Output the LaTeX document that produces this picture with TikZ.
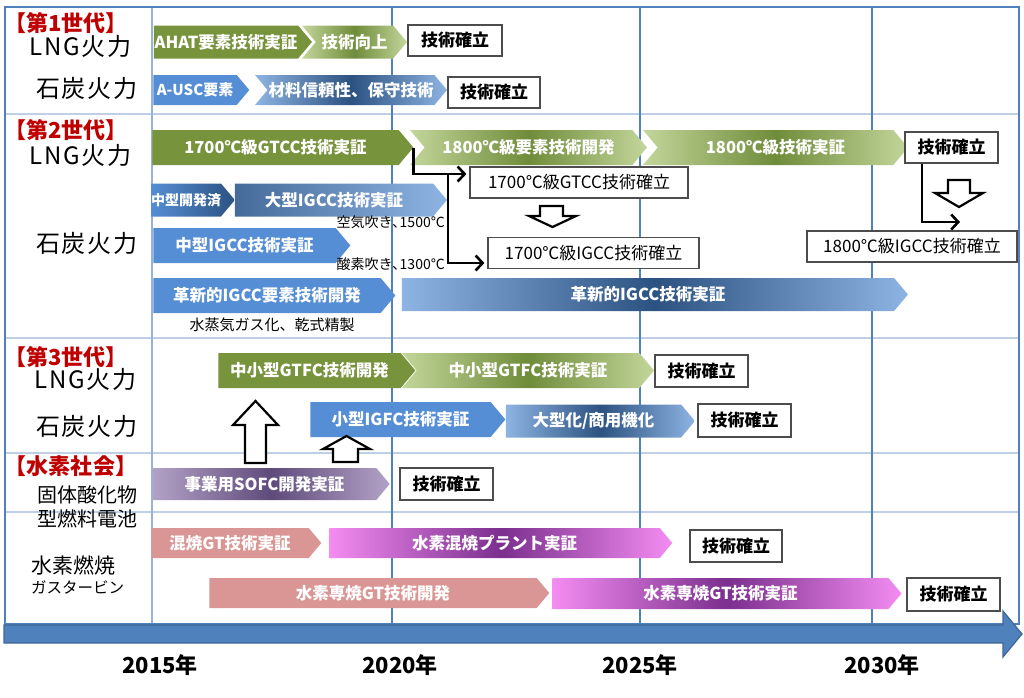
\documentclass[tikz,border=0pt]{standalone}
\usepackage{fontspec}
\setmainfont{Noto Sans CJK JP}
\usepackage{tikz}
\usetikzlibrary{shapes.symbols}
\usetikzlibrary{arrows.meta}
\usetikzlibrary{positioning}
\usetikzlibrary{calc}

\begin{document}
\begin{tikzpicture}[x=1pt, y=-1pt,
	stagebase/.style={signal, signal to=east, signal pointer angle=100, inner sep=0pt, text=white, font=\fontsize{16.5}{17}\selectfont\bfseries},
	stage/.style={stagebase, xshift=-7pt},
	stagein/.style={stagebase, signal from=west},
	greenfade/.style={left color=glight, right color=glight, middle color=gmid},
	bluefade/.style={left color=blight, right color=blight, middle color=bdark},
	purplefade/.style={left color=plight, right color=plight, middle color=pdark},
	pinkfade/.style={left color=mlight, right color=mlight, middle color=mdark},
	done/.style={draw=black!70, line width=1.2pt, fill=white, inner sep=0pt, font=\fontsize{17}{17}\selectfont\bfseries},
	fixbox/.style={done, font=\fontsize{17}{17}\selectfont},
	note/.style={inner sep=0pt, font=\fontsize{14}{14}\selectfont},
	genlabel/.style={inner sep=0pt, text=genred, font=\fontsize{22}{22}\selectfont\bfseries},
	rowlabel/.style={inner sep=0pt, anchor=east, font=\fontsize{24}{24}\selectfont\addfontfeatures{LetterSpace=8}},
	yearlabel/.style={inner sep=0pt, font=\fontsize{22}{22}\selectfont\bfseries},
	link/.style={line width=2.6pt, -{Straight Barb[length=7pt, width=15pt]}, shorten >=3pt},
	hollow/.style={fill=white, draw=black, line width=2.2pt, line join=miter}
]
% Roadmap of LNG / coal / hydrogen power generation technology

% Colors
\definecolor{gdark}{HTML}{77933C}
\definecolor{glight}{HTML}{C3D69B}
\definecolor{gmid}{HTML}{6F8C3A}
\definecolor{bmid}{HTML}{558ED5}
\definecolor{blight}{HTML}{8EB4E3}
\definecolor{bdark}{HTML}{2C5281}
\definecolor{plight}{HTML}{B3A2C7}
\definecolor{pdark}{HTML}{5F4B7B}
\definecolor{rose}{HTML}{D99694}
\definecolor{mlight}{HTML}{F48CF2}
\definecolor{mdark}{HTML}{7B2F8E}
\definecolor{lineblue}{HTML}{4F81BD}
\definecolor{collight}{HTML}{95B3D7}
\definecolor{seplight}{HTML}{BFD0E6}
\definecolor{genred}{HTML}{C00000}

\useasboundingbox (0,0) rectangle (1024,697);

% Outline
\draw[seplight, line width=1.5pt] (5,114) -- (1019,114);
\draw[seplight, line width=1.5pt] (5,338) -- (1019,338);
\draw[seplight, line width=1.5pt] (5,453) -- (1019,453);
\draw[seplight, line width=1.5pt] (5,512) -- (1019,512);
\draw[collight, line width=2pt] (152,7) -- (152,624);
\draw[lineblue, line width=2pt] (392,7) -- (392,624);
\draw[lineblue, line width=2pt] (640,7) -- (640,624);
\draw[lineblue, line width=2pt] (872,7) -- (872,624);
\draw[lineblue, line width=2.5pt] (5,7) rectangle (1019,624);

% Time axis
\filldraw[fill=lineblue, draw=lineblue!80!black, line width=1.2pt] (4,625) -- (1003,625) -- (1003,611) -- (1022,634) -- (1003,657) -- (1003,643) -- (4,643) -- cycle;
\node[yearlabel] (y2015) at (160,665) {2015年};
\node[yearlabel] (y2020) at (400,665) {2020年};
\node[yearlabel] (y2025) at (640,665) {2025年};
\node[yearlabel] (y2030) at (882,665) {2030年};

% Row labels
\node[genlabel] (gen1) at (66,23) {【第1世代】};
\node[rowlabel] (lng1) at (132,46) {LNG火力};
\node[rowlabel] (coal1) at (138,88) {石炭火力};
\node[genlabel] (gen2) at (66,130) {【第2世代】};
\node[rowlabel] (lng2) at (132,155) {LNG火力};
\node[rowlabel] (coal2) at (138,243) {石炭火力};
\node[genlabel] (gen3) at (66,357) {【第3世代】};
\node[rowlabel] (lng3) at (137,379) {LNG火力};
\node[rowlabel] (coal3) at (138,426) {石炭火力};
\node[genlabel] (gen4) at (71,466) {【水素社会】};
\node[rowlabel, font=\fontsize{20}{20}\selectfont] (sofc1) at (138,495) {固体酸化物};
\node[rowlabel, font=\fontsize{20}{20}\selectfont] (sofc2) at (138,519) {型燃料電池};
\node[rowlabel, anchor=west, font=\fontsize{21}{21}\selectfont] (h2gt1) at (31,565) {水素燃焼};
\node[rowlabel, anchor=west, font=\fontsize{15.5}{16}\selectfont] (h2gt2) at (31,587) {ガスタービン};

% First generation
\node[stage, fill=gdark, minimum width=158pt, minimum height=33pt] (ahat) at (233,42) {AHAT要素技術実証};
\node[stagein, greenfade, minimum width=105pt, minimum height=33pt] (ahatup) at (354.5,42) {技術向上};
\node[done, minimum width=94pt, minimum height=31pt] (ahatfix) at (455,40.5) {技術確立};
\node[stage, fill=bmid, minimum width=96pt, minimum height=30pt, font=\fontsize{15}{15}\selectfont\bfseries] (ausc) at (202,90) {A-USC要素};
\node[stagein, bluefade, minimum width=192pt, minimum height=30pt] (auscup) at (351,90) {材料信頼性、保守技術};
\node[done, minimum width=92pt, minimum height=31pt] (auscfix) at (494,92.5) {技術確立};

% Second generation
\node[stage, fill=gdark, minimum width=261pt, minimum height=35pt] (gtcc) at (282.5,147.5) {1700℃級GTCC技術実証};
\node[stagein, greenfade, minimum width=237pt, minimum height=35pt] (gtccdev) at (528.5,147.5) {1800℃級要素技術開発};
\node[stagein, greenfade, minimum width=265pt, minimum height=35pt] (gtccdemo) at (775.5,147.5) {1800℃級技術実証};
\node[done, minimum width=93pt, minimum height=31pt] (gtccfix) at (951.5,147.5) {技術確立};

\node[stage, left color=bmid, right color=bdark, minimum width=80pt, minimum height=33pt, font=\fontsize{14}{14}\selectfont\bfseries] (midigcc) at (193,200) {中型開発済};
\node[stage, left color=bdark!75!blight, right color=blight, minimum width=212pt, minimum height=33pt] (bigigcc) at (341,200) {大型IGCC技術実証};
\node[note, anchor=east] (airblown) at (445,222) {空気吹き､1500℃};
\node[stage, fill=bmid, minimum width=197pt, minimum height=35pt] (oxyigcc) at (251.5,245.5) {中型IGCC技術実証};
\node[note, anchor=east] (oxyblown) at (445,264) {酸素吹き､1300℃};
\node[stage, fill=bmid, minimum width=242pt, minimum height=35pt] (newigcc) at (274,295.5) {革新的IGCC要素技術開発};
\node[stage, bluefade, minimum width=506pt, minimum height=33pt] (newigccdemo) at (655,294.5) {革新的IGCC技術実証};
\node[note, font=\fontsize{15}{15}\selectfont] (steam) at (272,325) {水蒸気ガス化、乾式精製};

\node[fixbox, minimum width=218pt, minimum height=31pt] (gtcc17fix) at (579,182.5) {1700℃級GTCC技術確立};
\node[fixbox, minimum width=211pt, minimum height=31pt] (igcc17fix) at (593.5,253) {1700℃級IGCC技術確立};
\node[fixbox, minimum width=210pt, minimum height=31pt] (igcc18fix) at (912,246.5) {1800℃級IGCC技術確立};

% Connections
\coordinate (split) at (448,174);
\coordinate (turn) at (963,222);
\draw[link] (gtcc.east) |- ([yshift=8.5pt]gtcc17fix.west);
\draw[link] (split) |- ([yshift=-10pt]igcc17fix.west);
\draw[link] ([xshift=-29.5pt]gtccfix.south) |- (turn);
\draw[hollow] (540,206) -- (563,206) -- (563,216) -- (576,216) -- (552.5,227) -- (529,216) -- (540,216) -- cycle;
\draw[hollow] (948,180) -- (970,180) -- (970,193) -- (983,193) -- (959,207) -- (935,193) -- (948,193) -- cycle;

% Third generation
\node[stage, fill=gdark, minimum width=197pt, minimum height=35pt] (gtfc) at (316.5,370.5) {中小型GTFC技術開発};
\node[stagein, greenfade, minimum width=252pt, minimum height=35pt] (gtfcdemo) at (528,370.5) {中小型GTFC技術実証};
\node[done, minimum width=93pt, minimum height=32pt] (gtfcfix) at (701.5,371) {技術確立};
\node[stage, fill=bmid, minimum width=195pt, minimum height=35pt] (igfc) at (407.5,419.5) {小型IGFC技術実証};
\node[stage, bluefade, minimum width=189pt, minimum height=33pt] (igfcbig) at (600.5,421) {大型化/商用機化};
\node[done, minimum width=93pt, minimum height=33pt] (igfcfix) at (744.5,420.5) {技術確立};

% Hydrogen society
\node[stage, purplefade, minimum width=237pt, minimum height=32pt] (sofc) at (271.5,484) {事業用SOFC開発実証};
\node[done, minimum width=93pt, minimum height=32pt] (sofcfix) at (446.5,484) {技術確立};
\node[stage, fill=rose, minimum width=170pt, minimum height=30pt] (cofire) at (237,543) {混焼GT技術実証};
\node[stage, pinkfade, minimum width=343pt, minimum height=30pt] (cofireplant) at (501.5,543) {水素混焼プラント実証};
\node[done, minimum width=92pt, minimum height=32pt] (cofirefix) at (736,546) {技術確立};
\node[stage, fill=rose, minimum width=340pt, minimum height=30pt] (pure) at (380,593) {水素専焼GT技術開発};
\node[stage, pinkfade, minimum width=349pt, minimum height=31pt] (puredemo) at (727.5,593.5) {水素専焼GT技術実証};
\node[done, minimum width=93pt, minimum height=33pt] (purefix) at (953.5,594.5) {技術確立};

% Fuel cell feeds
\draw[hollow] (245,463) -- (245,425) -- (233,425) -- (255.5,401) -- (278,425) -- (266,425) -- (266,463) -- cycle;
\draw[hollow] (333,462) -- (333,449) -- (323,449) -- (346.5,436) -- (370,449) -- (358,449) -- (358,462) -- cycle;
\end{tikzpicture}
\end{document}
